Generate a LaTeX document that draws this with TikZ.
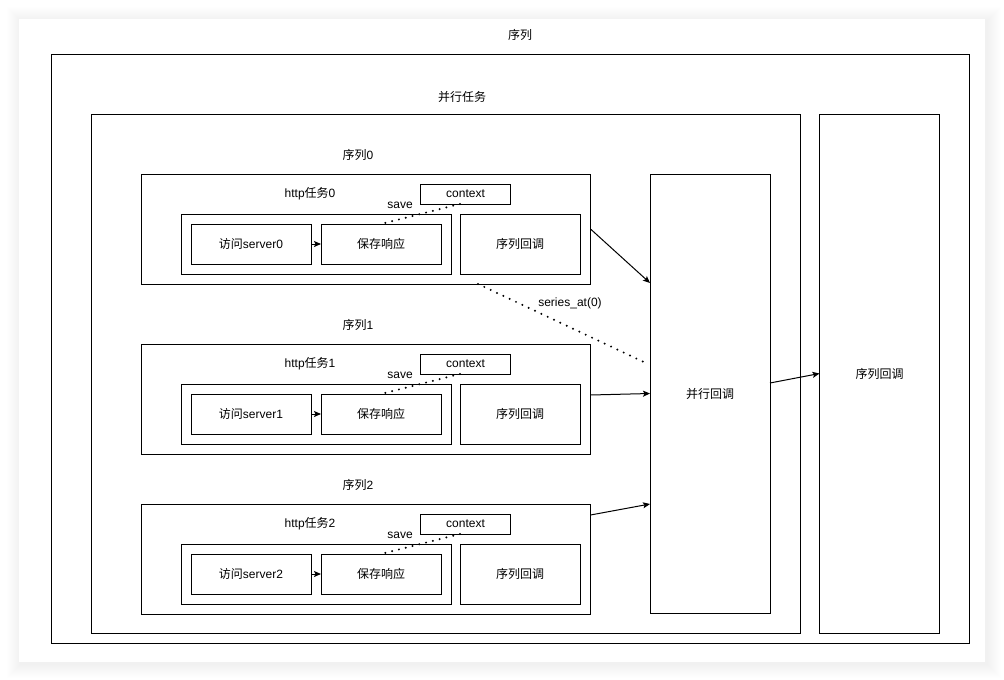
\documentclass[tikz,border=0pt]{standalone}
\usepackage{fontspec}
\setmainfont{Liberation Sans}
\newfontfamily\cjk{Noto Sans CJK SC}
\usetikzlibrary{arrows.meta}

\begin{document}
\begin{tikzpicture}[x=1pt, y=-1pt, font=\fontsize{12}{14}\selectfont,
		box/.style={draw, line width=1pt, inner sep=0pt, outer sep=0pt, fill=white},
		txt/.style={inner sep=0pt, outer sep=0pt},
		flow/.style={line width=1pt, -{Stealth[length=7pt, width=6pt, inset=1.5pt]}},
		dots/.style={line width=2.2pt, line cap=round, dash pattern=on 0pt off 7pt}]
				\useasboundingbox (0, 0) rectangle (1004, 680);
				% Card with shadow
				\foreach \s in {1,...,14}
					\fill[black, opacity=0.005] (21-\s, 21-\s) rectangle (987+\s, 664+\s);
				\fill[white] (19, 19) rectangle (985, 662);

				% Nodes
				\node[box, minimum width=918, minimum height=589] (seq) at (510, 348.5) {};
				\node[txt] (seqlbl) at (520, 35) {\cjk 序列};
				\node[box, minimum width=709, minimum height=519] (par) at (445.5, 373.5) {};
				\node[txt] (parlbl) at (462, 97) {\cjk 并行任务};
				\node[box, minimum width=120, minimum height=519] (rcb) at (879.5, 373.5) {\cjk 序列回调};
				\node[box, minimum width=120, minimum height=439] (pcb) at (710, 393.5) {\cjk 并行回调};

				\foreach \i/\t in {0/174, 1/344, 2/504} {
					\node[box, minimum width=449, minimum height=110] (row\i) at (366, \t+55) {};
					\node[txt] (rowlbl\i) at (358, \t-19) {{\cjk 序列}\i};
					\node[txt] (http\i) at (310, \t+20) {http{\cjk 任务}\i};
					\node[box, minimum width=90, minimum height=20] (ctx\i) at (465.5, \t+20) {context};
					\node[txt] (savelbl\i) at (400, \t+31) {save};
					\node[box, minimum width=270, minimum height=60] (task\i) at (316, \t+70) {};
					\node[box, minimum width=120, minimum height=40] (visit\i) at (251, \t+70) {{\cjk 访问}server\i};
					\node[box, minimum width=120, minimum height=40] (keep\i) at (381, \t+70) {\cjk 保存响应};
					\node[box, minimum width=120, minimum height=60] (cb\i) at (520, \t+70) {\cjk 序列回调};

					% Edges
					\draw[flow] (visit\i) -- (keep\i);
					\draw[dots] (ctx\i.-119) -- (keep\i.north);
				}
				\node[txt] (seriesat) at (570, 303) {series\_at(0)};

				\draw[flow] (row0.east) -- ([yshift=110.5pt]pcb.west);
				\draw[flow] ([yshift=4pt]row1.east) -- (pcb.west);
				\draw[flow] ([yshift=44pt]row2.east) -- ([yshift=-110.5pt]pcb.west);
				\draw[flow] ([yshift=10.5pt]pcb.east) -- (rcb.west);
				\draw[dots] ([xshift=112pt]row0.south) -- ([xshift=-2pt, yshift=29.5pt]pcb.west);
			\end{tikzpicture}
\end{document}
